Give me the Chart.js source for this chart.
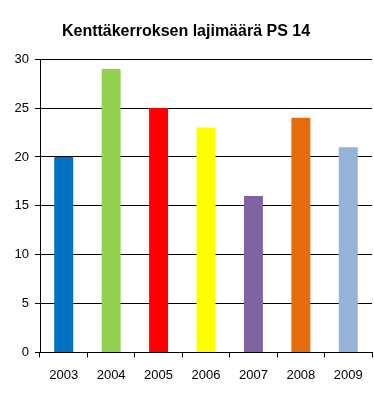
<!DOCTYPE html>
<html>
<head>
<meta charset="utf-8">
<script src="https://cdn.jsdelivr.net/npm/chart.js@4"></script>
<style>
  html, body { margin: 0; padding: 0; background: #fff; }
  #wrap { width: 374px; height: 416px; }
</style>
</head>
<body>
<div id="wrap"><canvas id="myChart" width="374" height="416"></canvas></div>
<script>
const years = ["2003", "2004", "2005", "2006", "2007", "2008", "2009"];
const speciesCount = [20, 29, 25, 23, 16, 24, 21];
const barColors = ["#0070C0", "#92D050", "#FF0000", "#FFFF00", "#8064A2", "#E46C0A", "#95B3D7"];
const yTicks = [0, 5, 10, 15, 20, 25, 30];

const data = {
  labels: years,
  datasets: [
    {
      data: speciesCount,
      backgroundColor: barColors,
      categoryPercentage: 1,
      barPercentage: 0.4,
    },
  ],
};

const config = {
  type: "bar",
  data: data,
  options: {
    responsive: false,
    animation: false,
    layout: {
      padding: { left: 0, right: 2, top: 0, bottom: 23 },
    },
    scales: {
      y: {
        min: 0,
        max: 30,
        afterBuildTicks: (axis) => {
          axis.ticks = yTicks.map((v) => ({ value: v }));
        },
        afterFit: (axis) => {
          axis.width = 40;
        },
        grid: {
          color: "#000",
          lineWidth: 1,
          tickLength: 5,
        },
        border: { color: "#000", width: 1 },
        ticks: {
          color: "#000",
          padding: 6,
          font: { family: "Liberation Sans, Arial", size: 13 },
        },
      },
      x: {
        grid: {
          offset: true,
          drawOnChartArea: false,
          color: "#000",
          tickLength: 5,
        },
        border: { color: "#000", width: 1 },
        ticks: {
          color: "#000",
          padding: 10,
          font: { family: "Liberation Sans, Arial", size: 13 },
        },
      },
    },
    plugins: {
      legend: { display: false },
      tooltip: { enabled: false },
      title: {
        display: true,
        text: "Kenttäkerroksen lajimäärä PS 14",
        color: "#000",
        font: { family: "Liberation Sans, Arial", size: 16, weight: "bold" },
        padding: { top: 22, bottom: 18 },
      },
    },
  },
};

const myChart = new Chart(document.getElementById("myChart"), config);
</script>
</body>
</html>
